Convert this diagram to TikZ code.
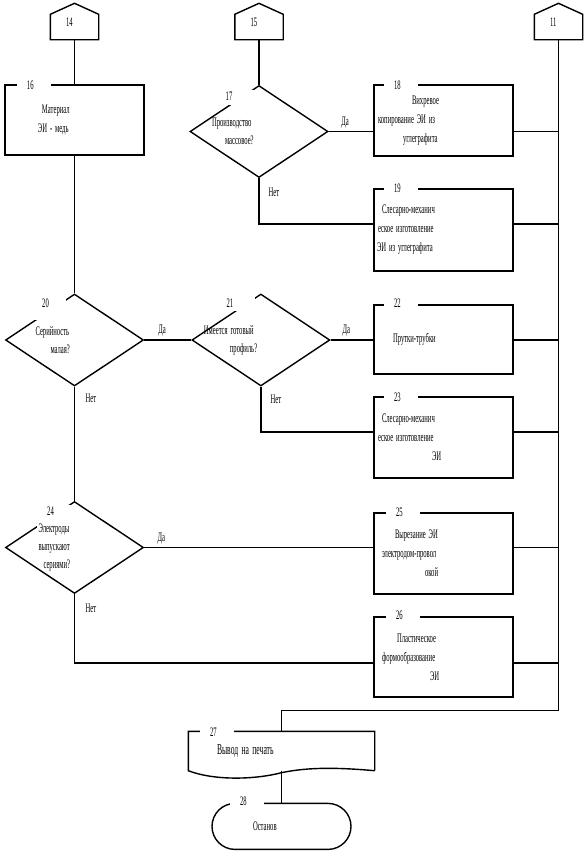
\documentclass[tikz,border=0pt]{standalone}
\usepackage{fontspec}
\newfontfamily\narrow[FakeStretch=0.51]{Liberation Serif}
\usetikzlibrary{positioning, shapes.geometric, calc}

\begin{document}
\begin{tikzpicture}[
        x=1pt, y=-1pt,
        line width=1.4pt,
        every node/.style={font=\narrow\fontsize{13}{19}\selectfont, execute at begin node={\spaceskip=0.22em\relax}},
        offpage/.style={rectangle, minimum height=24pt, text width=17pt, inner xsep=15pt, inner ysep=0pt, text depth=9pt, align=left},
        process/.style={draw, rectangle, text width=133pt, inner xsep=3pt, align=left},
        decision/.style={draw, diamond, minimum width=138pt, minimum height=92pt, inner sep=0pt},
        terminal/.style={draw, rectangle, rounded corners=23pt, minimum height=46pt, text width=133pt, inner xsep=3pt, align=left},
        printout/.style={rectangle, minimum height=38pt, text width=179pt, inner xsep=3pt, align=left, font=\narrow\fontsize{15}{17}\selectfont},
        num/.style={fill=white, anchor=base west, text width=14pt, inner xsep=10pt, inner ysep=0pt, text height=11pt, text depth=4pt, align=left},
        qtext/.style={anchor=west, align=left, inner sep=0pt, font=\narrow\fontsize{13}{18}\selectfont},
        yeslbl/.style={above=3pt, inner sep=0pt},
        nolbl/.style={anchor=north west, inner sep=0pt}
    ]

        \useasboundingbox (0,0) rectangle (587,852);

        % Соединители
        \node[offpage] (c14) at (74.5,27) {14};
        \node[offpage] (c15) at (259,27) {15};
        \node[offpage] (c11) at (558.5,27) {11};
        \foreach \c in {c14, c15, c11}
            \draw (\c.south west) -- (\c.north west) -- ([yshift=11pt]\c.north) -- (\c.north east) -- (\c.south east) -- cycle;

        % Блоки
        \node[process, minimum height=70pt] (b16) at (74.5,120) {\hspace*{34pt}Материал\\\hspace*{30pt}ЭИ - медь};
        \node[decision] (d17) at (259,131.5) {};
        \node[process, minimum height=71pt] (b18) at (443.5,120.5) {\hspace*{35pt}Вихревое\\\hspace*{1pt}копирование ЭИ из\\\hspace*{26pt}углеграфита};
        \node[process, minimum height=82pt] (b19) at (443.5,230) {\hspace*{5pt}Слесарно-механич\\\hspace*{1pt}еское изготовление\\ЭИ из углеграфита};
        \node[decision] (d20) at (74.5,340) {};
        \node[decision, right=47pt of d20] (d21) {};
        \node[process, minimum height=69pt] (b22) at (443.5,339.5) {\hspace*{16pt}Прутки-трубки};
        \node[process, minimum height=81pt] (b23) at (443.5,437.5) {\hspace*{5pt}Слесарно-механич\\\hspace*{1pt}еское изготовление\\\hspace*{55pt}ЭИ};
        \node[decision] (d24) at (74.5,547.5) {};
        \node[process, minimum height=81pt] (b25) at (443.5,553.5) {\hspace*{18pt}Вырезание ЭИ\\\hspace*{5pt}электродом-провол\\\hspace*{48pt}окой};
        \node[process, minimum height=80pt] (b26) at (443.5,657) {\hspace*{20pt}Пластическое\\\hspace*{5pt}формообразование\\\hspace*{53pt}ЭИ};
        \node[printout] (b27) at (281.5,751) {\hspace*{25pt}Вывод на печать};
        \node[terminal, below=32pt of b27] (t28) {\hspace*{38pt}Останов};
        \draw (b27.south east) -- (b27.north east) -- (b27.north west) -- (b27.south west)
            .. controls +(26,10) and +(-27,7) .. ($(b27.south)+(0,2)$)
            .. controls +(28,-6) and +(-34,-3) .. (b27.south east);

        % Связи
        \draw (c14) -- (b16);
        \draw (b16) -- (d20);
        \draw (c15) -- (d17);
        \draw (d17.east) -- (d17.east -| b18.west) node[yeslbl, pos=0.37] {Да};
        \draw (b18.east |- d17.east) -- (d17.east -| c11);
        \coordinate (j19) at ($(b19.west)+(0,-6)$);
        \draw (d17.south) node[nolbl, xshift=9pt, yshift=-9pt] {Нет} |- (j19);
        \draw (j19 -| b19.east) -- (j19 -| c11);
        \draw (d20) -- (d21) node[yeslbl, pos=0.38] {Да};
        \draw (d21.east) -- (d21.east -| b22.west) node[yeslbl, pos=0.37] {Да};
        \draw (b22.east |- d21.east) -- (d21.east -| c11);
        \coordinate (j23) at ($(b23.west)+(0,-5.5)$);
        \draw (d21.south) node[nolbl, xshift=9pt, yshift=-8pt] {Нет} |- (j23);
        \draw (j23 -| b23.east) -- (j23 -| c11);
        \draw (d20.south) node[nolbl, xshift=10.5pt, yshift=-7pt] {Нет} -- (d24.north);
        \draw (d24.east) -- (d24.east -| b25.west) node[yeslbl, pos=0.075] {Да};
        \draw (b25.east |- d24.east) -- (d24.east -| c11);
        \coordinate (j26) at ($(b26.west)+(0,6)$);
        \draw (d24.south) node[nolbl, xshift=10.5pt, yshift=-9pt] {Нет} |- (j26);
        \draw (j26 -| b26.east) -- (j26 -| c11);
        \draw (c11.south) -- ++(0,671) -| (b27.north);
        \draw (b27.south) -- (t28);

        % Номера
        \node[num] (n16) at ($(b16.north west)+(12,5)$) {16};
        \node[num, text width=18pt] (n17) at ($(d17.north)+(-44,16)$) {17};
        \node[num] (n18) at ($(b18.north west)+(10,5)$) {18};
        \node[num] (n19) at ($(b19.north west)+(10,4)$) {19};
        \node[num, text depth=13pt] (n20) at ($(d20.north)+(-43,14)$) {20};
        \node[num, text width=18pt] (n21) at ($(d21.north)+(-45,14)$) {21};
        \node[num] (n22) at ($(b22.north west)+(10,3)$) {22};
        \node[num] (n23) at ($(b23.north west)+(10,5)$) {23};
        \node[num, text depth=13pt] (n24) at ($(d24.north)+(-38,15)$) {24};
        \node[num] (n25) at ($(b25.north west)+(12,4)$) {25};
        \node[num] (n26) at ($(b26.north west)+(12,3)$) {26};
        \node[num] (n27) at ($(b27.north west)+(11,5)$) {27};
        \node[num] (n28) at ($(t28.north west)+(18,3)$) {28};

        % Условия
        \node[qtext] (q17) at ($(d17.west)+(22,0)$) {Производство\\\hspace*{13pt}массовое?};
        \node[qtext] (q20) at ($(d20.west)+(30,0)$) {Серийность\\\hspace*{15pt}малая?};
        \node[qtext] (q21) at ($(d21.west)+(12,0)$) {Имеется готовый\\\hspace*{26pt}профиль?};
        \node[qtext] (q24) at ($(d24.west)+(33,0)$) {Электроды\\выпускают\\\hspace*{5pt}сериями?};

    \end{tikzpicture}
\end{document}
